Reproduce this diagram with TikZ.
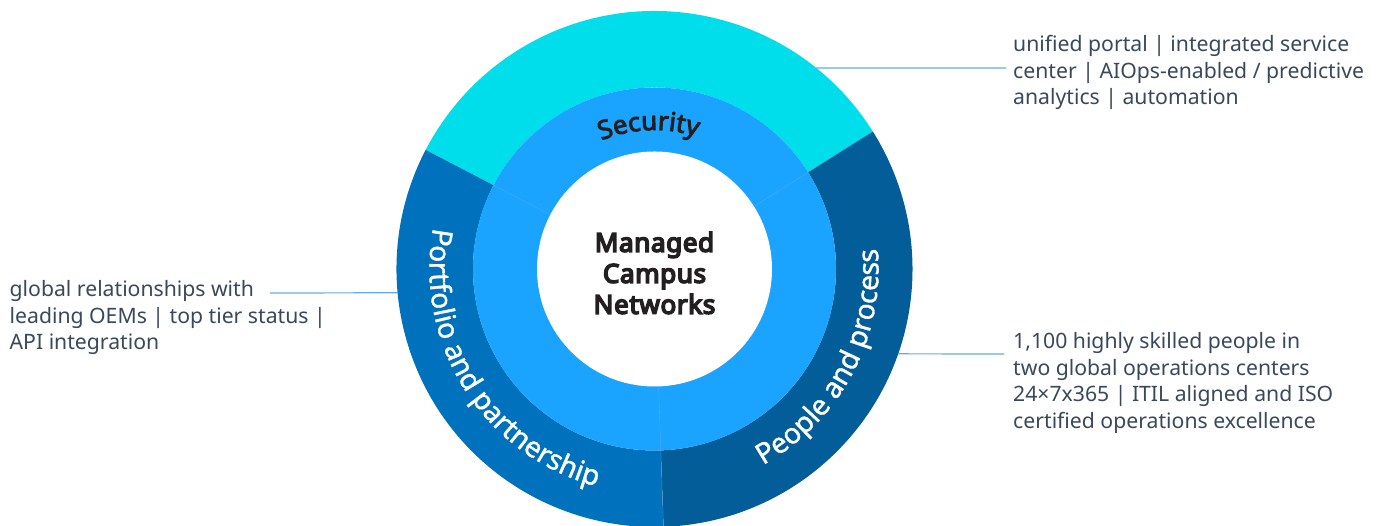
\documentclass[tikz,border=0pt]{standalone}
\usepackage{fontspec}
\setmainfont{Noto Sans}
\newfontfamily\boldnoto{Noto Sans}[FakeBold=6,LetterSpace=2.5]
\newfontfamily\semibnoto{Noto Sans}[FakeBold=3.5]
\newfontfamily\mednoto{Noto Sans}[FakeBold=1.2]
\usetikzlibrary{decorations.text}
\definecolor{segcyan}{HTML}{00DEEC}
\definecolor{ringblue}{HTML}{1AA3FF}
\definecolor{segleft}{HTML}{0071BD}
\definecolor{segright}{HTML}{035D99}
\definecolor{leadercol}{HTML}{62ADE3}
\definecolor{desccol}{HTML}{3A4859}
\definecolor{darktext}{HTML}{231F20}
\definecolor{seamcol}{HTML}{6CC3FF}
\tikzset{
  leader/.style={draw=leadercol,line width=1.2pt},
  seam/.style={draw=seamcol,line width=0.6pt,opacity=0.35},
  desc/.style={anchor=north west,inner sep=0pt,align=left,text=desccol,font=\fontsize{21.2}{26.5}\selectfont},
}
\begin{document}
\begin{tikzpicture}[x=1pt,y=1pt]
\useasboundingbox (0,0) rectangle (1381,526);
\clip (0,0) rectangle (1381,526);
\begin{scope}[shift={(654.5,257)}]
  % outer ring segments
  \fill[segcyan] (32.2:258) arc[start angle=32.2,end angle=152.5,radius=258]
     -- (152.5:181.5) arc[start angle=152.5,end angle=32.2,radius=181.5] -- cycle;
  \fill[segleft] (152.5:258) arc[start angle=152.5,end angle=272,radius=258]
     -- (272:181.5) arc[start angle=272,end angle=152.5,radius=181.5] -- cycle;
  \fill[segright] (-88:258) arc[start angle=-88,end angle=32.2,radius=258]
     -- (32.2:181.5) arc[start angle=32.2,end angle=-88,radius=181.5] -- cycle;
  % inner ring
  \fill[ringblue] (0,0) circle[radius=181.5];
  \fill[white] (0,0) circle[radius=117.5];
  \draw[seam] (152.5:117.5) -- (152.5:181.5);
  \draw[seam] (32.2:117.5) -- (32.2:181.5);
  \draw[seam] (-88:117.5) -- (-88:258);
  % curved labels
  \path[decorate,decoration={text along path,text align=center,
     text={|\semibnoto\fontsize{26}{30}\selectfont\color{darktext}|Security}}]
     (152.5:139) arc[start angle=152.5,end angle=32.2,radius=139];
  \path[decorate,decoration={text along path,text align=center,
     text={|\mednoto\fontsize{28.3}{30}\selectfont\color{white}|Portfolio and partnership}}]
     (152.5:225) arc[start angle=152.5,end angle=272,radius=225];
  \path[decorate,decoration={text along path,text align=center,
     text={|\mednoto\fontsize{28.3}{30}\selectfont\color{white}|People and process}}]
     (-88:224) arc[start angle=-88,end angle=32.2,radius=224];
  % center
  \node[align=center,text=darktext,font=\boldnoto\fontsize{26}{31}\selectfont] (ctr) at (0,-4) {Managed\\Campus\\Networks};
  \coordinate (e1) at (51.2:258);
  \coordinate (e2) at (185.3:257.5);
  \coordinate (e3) at (-19.2:258);
\end{scope}
\node[desc] (d1) at (1013,490.5) {unified portal | integrated service\\center | AIOps-enabled / predictive\\analytics | automation};
\node[desc] (d2) at (9.5,245.5) {global relationships with\\leading OEMs | top tier status |\\API integration};
\node[desc] (d3) at (1013,193.5) {1,100 highly skilled people in\\two global operations centers\\24×7x365 | ITIL aligned and ISO\\certified operations excellence};
\coordinate (f1) at (1006,458);
\coordinate (f2) at (270,233);
\coordinate (f3) at (1004,172);
\draw[leader] (e1) -- (f1);
\draw[leader] (f2) -- (e2);
\draw[leader] (e3) -- (f3);
\end{tikzpicture}
\end{document}
